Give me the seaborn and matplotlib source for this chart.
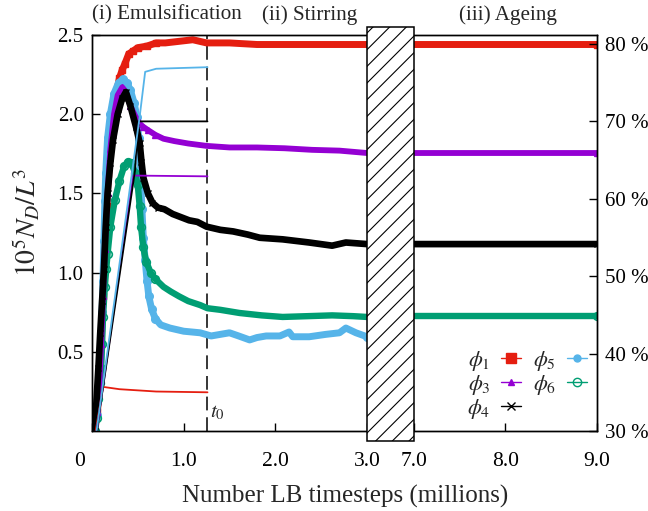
import numpy as np
import pandas as pd
import matplotlib
matplotlib.use("Agg")
import matplotlib.pyplot as plt
import matplotlib.transforms as mtransforms
from matplotlib.patches import Rectangle
from matplotlib.lines import Line2D
import seaborn as sns

# ---------------- data ----------------
series_labels = ["$\\phi_1$", "$\\phi_3$", "$\\phi_4$", "$\\phi_5$", "$\\phi_6$"]
series_colors = ["#e51e10", "#9400d3", "#000000", "#56b4e9", "#009e73"]

# droplet number density 10^5 N_D / L^3 vs time (millions of LB steps)
t_phi1 = [0.03, 0.06, 0.08, 0.10, 0.12, 0.14, 0.16, 0.18, 0.20, 0.23, 0.26, 0.30, 0.33, 0.36,
          0.40, 0.45, 0.50, 0.60, 0.70, 0.80, 0.95, 1.10, 1.25, 1.50, 1.80, 2.10, 2.40, 2.70,
          3.00, 7.00, 9.00]
nd_phi1 = [0.00, 0.12, 0.30, 0.55, 0.85, 1.15, 1.42, 1.62, 1.80, 2.00, 2.12, 2.23, 2.28, 2.32,
           2.38, 2.40, 2.42, 2.43, 2.45, 2.45, 2.46, 2.47, 2.45, 2.45, 2.44, 2.44, 2.44, 2.44,
           2.44, 2.44, 2.44]

t_phi3 = [0.03, 0.06, 0.08, 0.10, 0.12, 0.14, 0.17, 0.20, 0.24, 0.28, 0.33, 0.37, 0.42, 0.47,
          0.52, 0.56, 0.61, 0.69, 0.78, 0.90, 1.05, 1.25, 1.50, 1.80, 2.10, 2.40, 2.70, 3.00,
          7.00, 9.00]
nd_phi3 = [0.00, 0.12, 0.30, 0.55, 0.85, 1.15, 1.50, 1.78, 2.00, 2.12, 2.17, 2.14, 2.05, 1.99,
           1.94, 1.92, 1.90, 1.87, 1.845, 1.83, 1.815, 1.80, 1.79, 1.79, 1.785, 1.775, 1.77, 1.755,
           1.755, 1.755]

t_phi4 = [0.03, 0.05, 0.07, 0.09, 0.11, 0.13, 0.15, 0.17, 0.20, 0.23, 0.28, 0.33, 0.37, 0.42,
          0.48, 0.52, 0.54, 0.56, 0.61, 0.66, 0.72, 0.79, 0.88, 0.97, 1.06, 1.15, 1.25, 1.40,
          1.54, 1.70, 1.83, 2.08, 2.37, 2.62, 2.77, 3.00, 7.00, 9.00]
nd_phi4 = [0.00, 0.20, 0.40, 0.62, 0.82, 1.02, 1.29, 1.50, 1.69, 1.84, 2.00, 2.10, 2.14, 2.05,
           1.92, 1.82, 1.70, 1.60, 1.50, 1.44, 1.41, 1.40, 1.37, 1.35, 1.33, 1.32, 1.29, 1.27,
           1.26, 1.24, 1.22, 1.21, 1.19, 1.17, 1.19, 1.18, 1.18, 1.18]

t_phi5 = [0.03, 0.05, 0.07, 0.09, 0.10, 0.11, 0.12, 0.13, 0.14, 0.15, 0.17, 0.20, 0.24, 0.29,
          0.34, 0.38, 0.42, 0.46, 0.49, 0.51, 0.53, 0.545, 0.56, 0.58, 0.60, 0.62, 0.65, 0.69,
          0.75, 0.85, 1.00, 1.18, 1.30, 1.40, 1.50, 1.60, 1.72, 1.80, 1.90, 2.05, 2.15, 2.19,
          2.37, 2.55, 2.70, 2.77, 2.88, 3.00]
nd_phi5 = [0.00, 0.10, 0.25, 0.40, 0.55, 0.75, 0.95, 1.20, 1.45, 1.63, 1.85, 2.00, 2.13, 2.20,
           2.22, 2.20, 2.15, 2.07, 1.98, 1.85, 1.60, 1.40, 1.22, 1.08, 0.95, 0.85, 0.77, 0.71,
           0.67, 0.65, 0.63, 0.62, 0.60, 0.61, 0.62, 0.60, 0.575, 0.59, 0.60, 0.60, 0.625, 0.595,
           0.595, 0.61, 0.62, 0.65, 0.62, 0.595]

t_phi6 = [0.03, 0.05, 0.07, 0.085, 0.10, 0.11, 0.12, 0.14, 0.155, 0.17, 0.20, 0.25, 0.30, 0.35,
          0.39, 0.43, 0.47, 0.50, 0.52, 0.535, 0.56, 0.59, 0.64, 0.69, 0.78, 0.86, 0.95, 1.05,
          1.18, 1.26, 1.40, 1.61, 1.85, 2.08, 2.35, 2.62, 2.85, 3.00, 7.00, 9.00]
nd_phi6 = [0.00, 0.08, 0.20, 0.30, 0.40, 0.55, 0.72, 0.91, 1.02, 1.12, 1.29, 1.46, 1.58, 1.67,
           1.70, 1.69, 1.63, 1.55, 1.42, 1.29, 1.16, 1.07, 1.00, 0.96, 0.91, 0.88, 0.85, 0.82,
           0.795, 0.775, 0.765, 0.745, 0.73, 0.72, 0.725, 0.73, 0.725, 0.72, 0.726, 0.726]

# dispersed-phase volume fraction (%) during emulsification (right axis)
tf_phi1 = [0.04, 0.12, 0.30, 0.70, 1.26]
vf_phi1 = [30.0, 35.7, 35.4, 35.1, 35.0]
tf_phi3 = [0.05, 0.45, 1.26]
vf_phi3 = [30.0, 63.0, 62.9]
tf_phi4 = [0.05, 0.47, 0.50, 1.26]
vf_phi4 = [30.0, 63.7, 70.0, 70.0]
tf_phi5 = [0.05, 0.52, 0.58, 0.70, 1.26]
vf_phi5 = [30.0, 70.6, 76.4, 76.8, 77.0]

t0_time = 1.25
x_ticks = [0, 1, 2, 3, 7, 8, 9]
x_ticklabels = ["0", "1.0", "2.0", "3.0", "7.0", "8.0", "9.0"]
y_ticks = [0.5, 1.0, 1.5, 2.0, 2.5]
y2_ticks = [30, 40, 50, 60, 70, 80]
phase_titles = ["(i) Emulsification", "(ii) Stirring", "(iii) Ageing"]
break_start, break_end = 3.0, 7.0

# ---------------- style ----------------
sns.set_style("ticks")
plt.rcParams["font.family"] = ["Liberation Serif", "DejaVu Serif"]
plt.rcParams["mathtext.fontset"] = "stix"
plt.rcParams["hatch.linewidth"] = 0.8
plt.rcParams["axes.linewidth"] = 1.0

fig = plt.figure(figsize=(6.48, 5.11), dpi=100)
ax = fig.add_axes([92 / 648, 1 - 431 / 511, 505 / 648, 396 / 511])

GAP = 0.51


def fwd(x):
    x = np.asarray(x, dtype=float)
    return np.where(x <= 3, x, np.where(x >= 7, x - 7 + 3 + GAP, 3 + (x - 3) * GAP / 4))


def inv(u):
    u = np.asarray(u, dtype=float)
    return np.where(u <= 3, u, np.where(u >= 3 + GAP, u - 3 - GAP + 7, 3 + (u - 3) * 4 / GAP))


ax.set_xscale("function", functions=(fwd, inv))

thick = [
    (t_phi1, nd_phi1, 0, "s", dict(mfc="#e51e10", mec="#e51e10", ms=5, lw=5.0)),
    (t_phi5, nd_phi5, 3, "o", dict(mfc="#56b4e9", mec="#56b4e9", ms=5.5, lw=5.0)),
    (t_phi6, nd_phi6, 4, "o", dict(mfc="none", mec="#009e73", ms=5.5, mew=1.2, lw=4.6)),
    (t_phi3, nd_phi3, 1, "^", dict(mfc="#9400d3", mec="#9400d3", ms=4, lw=4.2)),
    (t_phi4, nd_phi4, 2, "x", dict(mfc="#000000", mec="#000000", ms=5, mew=1.0, lw=4.8)),
]
for tt, nd, idx, mk, kw in thick:
    df = pd.DataFrame({"t": tt, "nd": nd})
    every = [i for i, tv in enumerate(tt) if tv < 0.75 or i == len(tt) - 1]
    sns.lineplot(data=df, x="t", y="nd", ax=ax, color=series_colors[idx], marker=mk,
                 estimator=None, sort=False, legend=False, solid_capstyle="butt",
                 solid_joinstyle="round", markevery=every,
                 markeredgewidth=kw.pop("mew", 1.0), markeredgecolor=kw.pop("mec"),
                 markerfacecolor=kw.pop("mfc"), markersize=kw.pop("ms"), linewidth=kw.pop("lw"))

ax.axvline(t0_time, color="black", lw=1.1, ls=(0, (9, 4.5)), zorder=1)

ax.set_xlim(0, 9)
ax.set_ylim(0, 2.5)
ax.set_xticks(x_ticks)
ax.set_xticklabels(x_ticklabels)
ax.set_yticks(y_ticks)
ax.set_yticklabels([f"{v:.1f}" for v in y_ticks])
ax.set_xlabel("")
ax.set_ylabel("")
ax.tick_params(axis="x", direction="in", length=6, width=1, labelsize=15.5, pad=15,
               top=False, colors="black")
ax.tick_params(axis="y", direction="in", length=6, width=1, labelsize=15, pad=6,
               right=False, colors="black")
ax.minorticks_off()
# the "0" label sits slightly left of the origin in the original
lab0 = ax.get_xticklabels()[0]
lab0.set_transform(lab0.get_transform() + mtransforms.ScaledTranslation(-12 / 100, 0, fig.dpi_scale_trans))

ax2 = ax.twinx()
thin = [(tf_phi1, vf_phi1, 0), (tf_phi3, vf_phi3, 1), (tf_phi4, vf_phi4, 2), (tf_phi5, vf_phi5, 3)]
for tt, vf, idx in thin:
    sns.lineplot(x=tt, y=vf, ax=ax2, color=series_colors[idx], lw=1.3, estimator=None,
                 sort=False, legend=False)
ax2.set_ylim(30, 81.16)
ax2.set_yticks(y2_ticks)
ax2.set_yticklabels([f"{v} %" for v in y2_ticks])
ax2.set_ylabel("")
ax2.tick_params(axis="y", direction="in", length=6, width=1, labelsize=15, pad=6, colors="black")
ax2.minorticks_off()
for sp in list(ax2.spines.values()) + list(ax.spines.values()):
    sp.set_linewidth(1.0)
    sp.set_color("black")

# broken-axis hatched block
blend = mtransforms.blended_transform_factory(ax2.transData, ax2.transAxes)
ax2.add_patch(Rectangle((break_start, -0.0253), break_end - break_start, 1.0455, transform=blend,
                        facecolor="white", edgecolor="black", hatch="//", lw=1.1,
                        clip_on=False, zorder=20))

ax2.text(1.29, 0.022, "$t_0$", transform=blend, fontsize=15, ha="left", va="bottom")

# legend
markers = ["s", "^", "x", "o", "o"]
mfcs = ["#e51e10", "#9400d3", "#000000", "#56b4e9", "none"]
msz = [6.5, 4.5, 5.5, 5, 6]
handles = [Line2D([], [], color=c, lw=1.0, marker=m, markersize=s, markerfacecolor=f,
                  markeredgecolor=c, markeredgewidth=1.0)
           for c, m, f, s in zip(series_colors, markers, mfcs, msz)]
ax2.legend(handles, series_labels, ncol=2, markerfirst=False, frameon=False, fontsize=16,
           handlelength=0.9, handletextpad=0.5, columnspacing=0.5, labelspacing=0.0,
           loc="upper left", bbox_to_anchor=(467 / 648, 1 - 349 / 511),
           bbox_transform=fig.transFigure, borderaxespad=0, borderpad=0)

# titles / labels
title_x = [167, 310, 508]
for tx, tl in zip(title_x, phase_titles):
    fig.text(tx / 648, 1 - 15 / 511, tl, ha="center", va="center", fontsize=15.2)
fig.text(345 / 648, 1 - 503 / 511, "Number LB timesteps (millions)", ha="center", va="baseline",
         fontsize=18)
fig.text(27 / 648, 1 - 222 / 511, "$10^5N_D/L^3$", rotation=90, ha="center", va="center",
         fontsize=20)

fig.savefig("out.png", dpi=100)
